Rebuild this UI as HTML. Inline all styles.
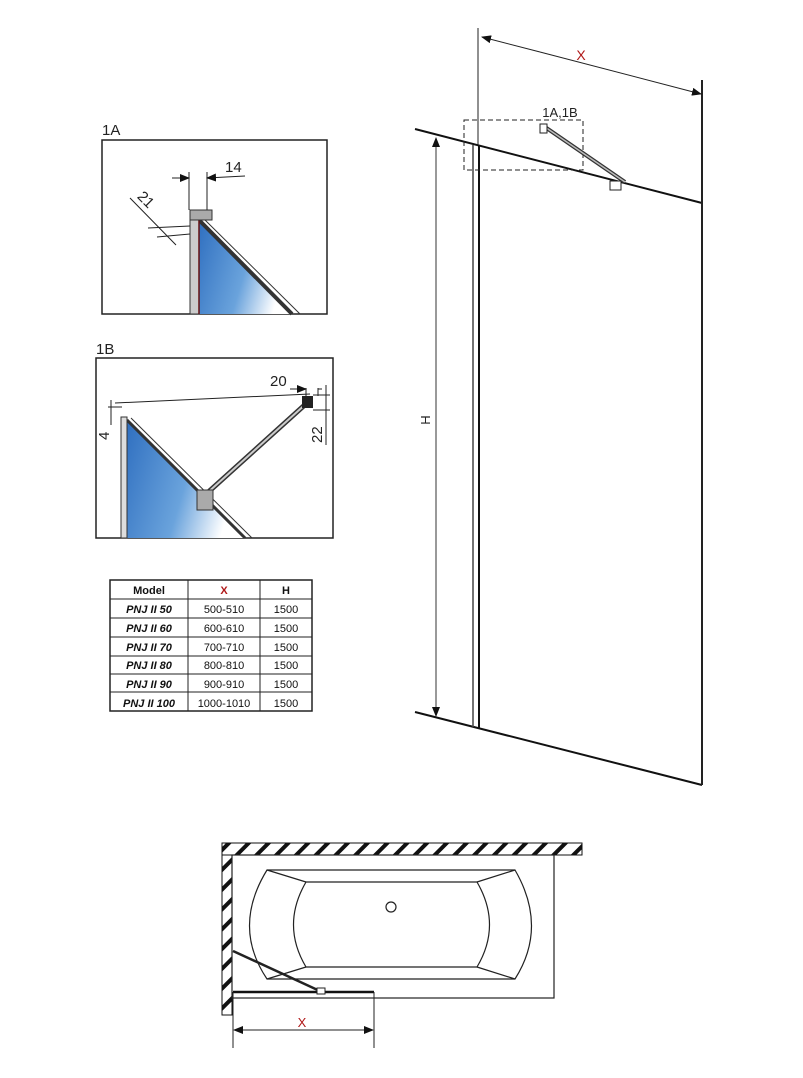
<!DOCTYPE html>
<html><head><style>
html,body{margin:0;padding:0;background:#fff;}
svg{display:block;font-family:"Liberation Sans",sans-serif;}
</style></head><body>
<svg width="803" height="1078" viewBox="0 0 803 1078" xmlns="http://www.w3.org/2000/svg">
<defs>
<linearGradient id="bl" x1="0" y1="0" x2="1" y2="0.3">
<stop offset="0" stop-color="#2f6fc0"/><stop offset="0.6" stop-color="#6aa3dc"/><stop offset="1" stop-color="#ffffff"/>
</linearGradient>
<pattern id="hat" width="14" height="14" patternUnits="userSpaceOnUse" patternTransform="rotate(45)">
<rect width="14" height="14" fill="#fff"/><rect width="4" height="14" fill="#111"/>
</pattern>
<marker id="ar" markerWidth="10" markerHeight="8" refX="9" refY="4" orient="auto" markerUnits="userSpaceOnUse">
<path d="M0,0 L10,4 L0,8 z" fill="#111"/></marker>
</defs>

<!-- 1A -->
<text x="102" y="135" font-size="15" fill="#222">1A</text>
<rect x="102" y="140" width="225" height="174" fill="#fff" stroke="#222" stroke-width="1.5"/>
<polygon points="199,220 292,314 199,314" fill="url(#bl)"/>
<line x1="199" y1="220" x2="292" y2="314" stroke="#333" stroke-width="4"/>
<line x1="203" y1="218" x2="300" y2="314" stroke="#333" stroke-width="1"/>
<rect x="190" y="213" width="9" height="101" fill="#ccc" stroke="#333"/>
<line x1="199" y1="220" x2="199" y2="314" stroke="#611" stroke-width="1.5"/>
<rect x="190" y="210" width="22" height="10" fill="#aaa" stroke="#333"/>
<line x1="189" y1="172" x2="189" y2="210" stroke="#222"/>
<line x1="207" y1="172" x2="207" y2="210" stroke="#222"/>
<line x1="172" y1="178" x2="189" y2="178" stroke="#222" marker-end="url(#ar)"/>
<line x1="245" y1="176" x2="207" y2="178" stroke="#222" marker-end="url(#ar)"/>
<text x="225" y="172" font-size="15" fill="#222">14</text>
<line x1="148" y1="228" x2="190" y2="226" stroke="#222"/>
<line x1="157" y1="237" x2="190" y2="234" stroke="#222"/>
<line x1="130" y1="198" x2="176" y2="245" stroke="#222"/>
<text x="132" y="202" font-size="15" fill="#222" transform="rotate(45 140 205)">21</text>

<!-- 1B -->
<text x="96" y="354" font-size="15" fill="#222">1B</text>
<rect x="96" y="358" width="237" height="180" fill="#fff" stroke="#222" stroke-width="1.5"/>
<polygon points="127,420 245,538 127,538" fill="url(#bl)"/>
<line x1="127" y1="420" x2="245" y2="538" stroke="#333" stroke-width="3"/>
<line x1="131" y1="418" x2="252" y2="538" stroke="#333" stroke-width="1"/>
<rect x="121" y="417" width="6" height="121" fill="#ddd" stroke="#333"/>
<line x1="115" y1="403" x2="310" y2="394" stroke="#222"/>
<line x1="205" y1="495" x2="308" y2="402" stroke="#333" stroke-width="5"/>
<line x1="205" y1="495" x2="308" y2="402" stroke="#ccc" stroke-width="2"/>
<rect x="302" y="396" width="11" height="12" fill="#222"/>
<rect x="197" y="490" width="16" height="20" fill="#aaa" stroke="#333"/>
<line x1="306" y1="388" x2="306" y2="396" stroke="#222"/>
<line x1="318" y1="388" x2="318" y2="396" stroke="#222"/>
<line x1="290" y1="389" x2="306" y2="389" stroke="#222" marker-end="url(#ar)"/>
<line x1="322" y1="389" x2="318" y2="389" stroke="#222"/>
<text x="270" y="386" font-size="15" fill="#222">20</text>
<line x1="313" y1="395" x2="330" y2="395" stroke="#222"/>
<line x1="313" y1="410" x2="330" y2="410" stroke="#222"/>
<line x1="326" y1="385" x2="326" y2="445" stroke="#222"/>
<text x="322" y="443" font-size="15" fill="#222" transform="rotate(-90 322 443)">22</text>
<line x1="111" y1="400" x2="111" y2="425" stroke="#222"/>
<line x1="108" y1="407" x2="122" y2="407" stroke="#222"/>
<text x="109" y="440" font-size="15" fill="#222" transform="rotate(-90 109 440)">4</text>

<!-- table -->
<g font-size="11" fill="#111">
<rect x="110" y="580" width="202" height="131" fill="#fff" stroke="#222" stroke-width="1.5"/>
<line x1="188" y1="580" x2="188" y2="711" stroke="#222"/>
<line x1="260" y1="580" x2="260" y2="711" stroke="#222"/>
<line x1="110" y1="599" x2="312" y2="599" stroke="#222"/>
<line x1="110" y1="618" x2="312" y2="618" stroke="#222"/>
<line x1="110" y1="637" x2="312" y2="637" stroke="#222"/>
<line x1="110" y1="656" x2="312" y2="656" stroke="#222"/>
<line x1="110" y1="674" x2="312" y2="674" stroke="#222"/>
<line x1="110" y1="692" x2="312" y2="692" stroke="#222"/>
<text x="149" y="594" text-anchor="middle" font-weight="bold">Model</text>
<text x="224" y="594" text-anchor="middle" font-weight="bold" fill="#b01818">X</text>
<text x="286" y="594" text-anchor="middle" font-weight="bold">H</text>
<g font-weight="bold" font-style="italic" text-anchor="middle">
<text x="149" y="613">PNJ II 50</text><text x="149" y="632">PNJ II 60</text><text x="149" y="651">PNJ II 70</text>
<text x="149" y="669">PNJ II 80</text><text x="149" y="688">PNJ II 90</text><text x="149" y="707">PNJ II 100</text></g>
<g text-anchor="middle">
<text x="224" y="613">500-510</text><text x="224" y="632">600-610</text><text x="224" y="651">700-710</text>
<text x="224" y="669">800-810</text><text x="224" y="688">900-910</text><text x="224" y="707">1000-1010</text>
<text x="286" y="613">1500</text><text x="286" y="632">1500</text><text x="286" y="651">1500</text>
<text x="286" y="669">1500</text><text x="286" y="688">1500</text><text x="286" y="707">1500</text></g>
</g>

<!-- main elevation -->
<line x1="415" y1="129" x2="702" y2="203" stroke="#111" stroke-width="2"/>
<line x1="415" y1="712" x2="702" y2="785" stroke="#111" stroke-width="2"/>
<line x1="702" y1="80" x2="702" y2="785" stroke="#222" stroke-width="2"/>
<line x1="473" y1="145" x2="473" y2="727" stroke="#444" stroke-width="1.5"/>
<line x1="479" y1="145" x2="479" y2="728" stroke="#111" stroke-width="2"/>
<line x1="478" y1="28" x2="478" y2="145" stroke="#222"/>
<line x1="540" y1="52" x2="482" y2="37" stroke="#222" marker-end="url(#ar)"/>
<line x1="540" y1="52" x2="701" y2="94" stroke="#222" marker-end="url(#ar)"/>
<text x="581" y="60" font-size="14" fill="#b01818" text-anchor="middle">X</text>
<line x1="436" y1="420" x2="436" y2="138" stroke="#333" marker-end="url(#ar)"/>
<line x1="436" y1="420" x2="436" y2="716" stroke="#333" marker-end="url(#ar)"/>
<text x="430" y="420" font-size="13" fill="#222" text-anchor="middle" transform="rotate(-90 430 420)">H</text>
<rect x="464" y="120" width="119" height="50" fill="none" stroke="#222" stroke-dasharray="5,3"/>
<text x="560" y="117" font-size="13" fill="#222" text-anchor="middle">1A,1B</text>
<line x1="545" y1="127" x2="625" y2="182" stroke="#333" stroke-width="4"/>
<line x1="545" y1="127" x2="625" y2="182" stroke="#bbb" stroke-width="1.5"/>
<rect x="540" y="124" width="7" height="9" fill="#fff" stroke="#222"/>
<rect x="610" y="181" width="11" height="9" fill="#fff" stroke="#222"/>

<!-- plan -->
<rect x="222" y="843" width="360" height="12" fill="url(#hat)" stroke="#111"/>
<rect x="222" y="855" width="10" height="160" fill="url(#hat)" stroke="#111"/>
<rect x="232" y="855" width="322" height="143" fill="#fff" stroke="#222" stroke-width="1.2"/>
<g fill="none" stroke="#222" stroke-width="1.2">
<path d="M267,870 L515,870 Q548,927 515,979 L267,979 Q232,927 267,870 z"/>
<path d="M306,882 L477,882 Q502,925 477,967 L306,967 Q281,925 306,882 z"/>
<line x1="267" y1="870" x2="306" y2="882"/><line x1="515" y1="870" x2="477" y2="882"/>
<line x1="267" y1="979" x2="306" y2="967"/><line x1="515" y1="979" x2="477" y2="967"/>
<circle cx="391" cy="907" r="5"/>
</g>
<line x1="233" y1="951" x2="322" y2="992" stroke="#222" stroke-width="2.5"/>
<line x1="233" y1="992" x2="374" y2="992" stroke="#111" stroke-width="2.5"/>
<rect x="317" y="988" width="8" height="6" fill="#fff" stroke="#222"/>
<line x1="233" y1="992" x2="233" y2="1048" stroke="#222"/>
<line x1="374" y1="992" x2="374" y2="1048" stroke="#222"/>
<line x1="300" y1="1030" x2="234" y2="1030" stroke="#222" marker-end="url(#ar)"/>
<line x1="300" y1="1030" x2="373" y2="1030" stroke="#222" marker-end="url(#ar)"/>
<text x="302" y="1027" font-size="13" fill="#b01818" text-anchor="middle">X</text>
</svg>
</body></html>
